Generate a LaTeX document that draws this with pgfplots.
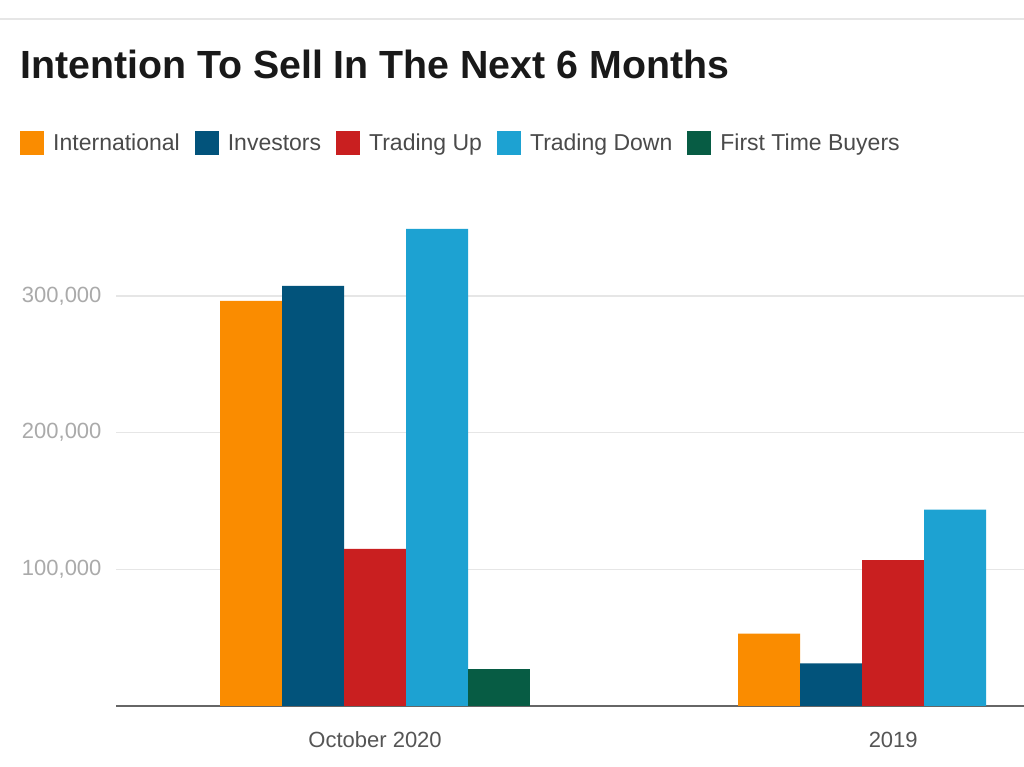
\documentclass[border=0pt]{standalone}
\usepackage{pgfplots}
\pgfplotsset{compat=1.18}
\usepackage{fontspec}
\setmainfont{Liberation Sans}
\definecolor{cIntl}{HTML}{FA8C00}
\definecolor{cInv}{HTML}{02537B}
\definecolor{cUp}{HTML}{C91F20}
\definecolor{cDown}{HTML}{1DA2D2}
\definecolor{cFTB}{HTML}{075C44}
\definecolor{gridc}{HTML}{E6E6E6}
\definecolor{ytickc}{HTML}{AAAAAA}
\definecolor{xtickc}{HTML}{555555}
\definecolor{legc}{HTML}{4A4A4A}
\begin{document}
\begin{tikzpicture}
\useasboundingbox (0pt,0pt) rectangle (1024pt,767pt);
\fill[white] (0pt,0pt) rectangle (1024pt,767pt);
\draw[gridc, line width=2pt] (0pt,748pt) -- (1024pt,748pt);
\node[anchor=base west, inner sep=0pt, font=\fontsize{39.3}{44}\selectfont\bfseries, text={black!90}] at (20pt,688pt) {Intention To Sell In The Next 6 Months};
\begin{axis}[
  at={(116pt,61pt)}, anchor=south west,
  scale only axis, width=908pt, height=492.1pt,
  xmin=-0.5, xmax=1.2524,
  ymin=0, ymax=360000,
  axis lines*=left,
  y axis line style={draw=none},
  x axis line style={draw=black!60, line width=2pt},
  major tick length=0pt,
  xtick={0,1}, xticklabels={October 2020,2019},
  xticklabel style={font=\fontsize{22}{25}\selectfont, text=xtickc, anchor=base, yshift=-42pt},
  ytick={100000,200000,300000},
  yticklabel style={font=\fontsize{22}{25}\selectfont, text=ytickc, anchor=east, xshift=-11pt},
  scaled y ticks=false,
  /pgf/number format/.cd, fixed, 1000 sep={,}, assume math mode=true, /pgfplots/.cd,
  ymajorgrids, grid style={gridc, line width=1.5pt},
  bar width=62pt,
  ybar=0pt,
  legend columns=5,
  legend style={at={(-0.109,1.144)}, anchor=west, draw=none, fill=none,
    font=\fontsize{23}{26}\selectfont, text=legc, column sep=7pt,
    /tikz/every even column/.append style={column sep=13pt}},
  legend image code/.code={\fill[#1, draw=none] (0pt,-12pt) rectangle (24pt,12pt);},
]
\addplot[fill=cIntl, draw=none, bar shift=-124pt] coordinates {(0,296300) (1,53000)};
\addplot[fill=cInv, draw=none, bar shift=-62pt] coordinates {(0,307300) (1,31100)};
\addplot[fill=cUp, draw=none, bar shift=0pt] coordinates {(0,114900) (1,106700)};
\addplot[fill=cDown, draw=none, bar shift=62pt] coordinates {(0,349000) (1,143700)};
\addplot[fill=cFTB, draw=none, bar shift=124pt] coordinates {(0,26800)};
\legend{International, Investors, Trading Up, Trading Down, First Time Buyers}
\end{axis}
\end{tikzpicture}
\end{document}
